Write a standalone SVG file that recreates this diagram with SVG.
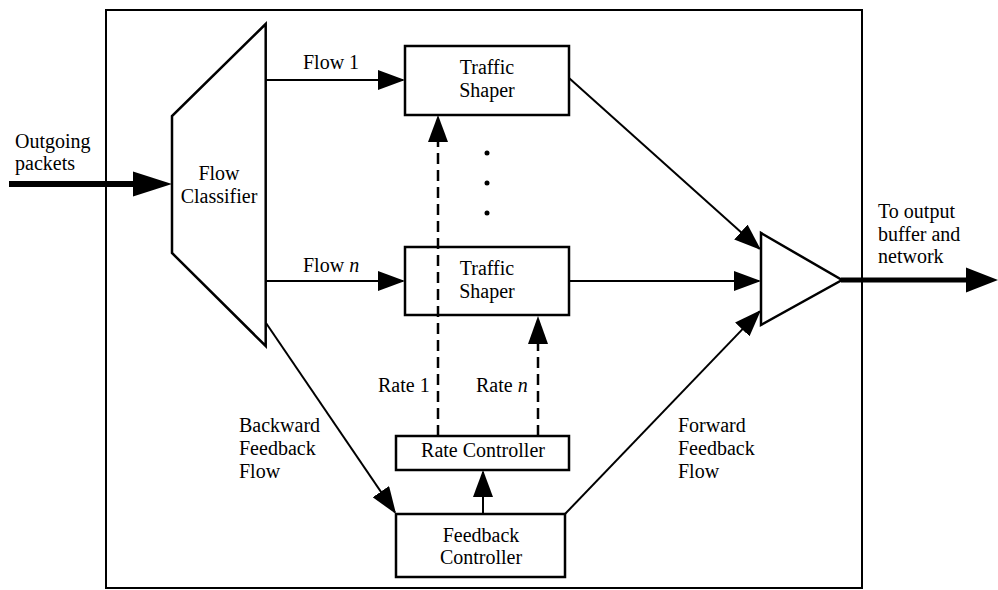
<svg xmlns="http://www.w3.org/2000/svg" width="998" height="590" viewBox="0 0 998 590">
<defs>
<style>
text{font-family:"Liberation Serif","Times New Roman",serif;font-size:20px;fill:#000}
.c{text-anchor:middle}
.box{fill:#fff;stroke:#000;stroke-width:2.5}
.ln{fill:none;stroke:#000;stroke-width:2}
.dash{fill:none;stroke:#000;stroke-width:2.5;stroke-dasharray:11 6}
.thick{fill:none;stroke:#000;stroke-width:6}
.head{fill:#000;stroke:none}
</style>
<marker id="ah" markerUnits="userSpaceOnUse" markerWidth="28" markerHeight="20" viewBox="0 0 28 20" refX="25" refY="10" orient="auto">
<path d="M0,0 L27,10 L0,20 z" fill="#000"/>
</marker>
</defs>
<rect width="998" height="590" fill="#fff"/>
<rect id="frame" x="106" y="10" width="756" height="578" fill="none" stroke="#000" stroke-width="2"/>

<g id="connectors">
<line class="thick" x1="9" y1="184" x2="140" y2="184"/>
<polygon class="head" points="133,171.5 172,184 133,196.5"/>
<line class="ln" x1="266" y1="80" x2="403" y2="80" marker-end="url(#ah)"/>
<line class="ln" x1="266" y1="281" x2="403" y2="281" marker-end="url(#ah)"/>
<line class="ln" x1="569" y1="78" x2="759.5" y2="248.7" marker-end="url(#ah)"/>
<line class="ln" x1="569" y1="281" x2="759" y2="281" marker-end="url(#ah)"/>
<line class="ln" x1="565" y1="514" x2="759.6" y2="311.4" marker-end="url(#ah)"/>
<line class="ln" x1="266" y1="323" x2="394.9" y2="512.3" marker-end="url(#ah)"/>
<line class="ln" x1="483" y1="514" x2="483" y2="472" marker-end="url(#ah)"/>
<line class="thick" x1="841" y1="280" x2="970" y2="280" style="stroke-width:5"/>
<polygon class="head" points="966,267.5 998,280 966,292.5"/>
</g>

<g id="classifier">
<polygon class="box" points="265.7,24 172,116 172,253 265.7,346"/>
<text class="c" x="219" y="180">Flow</text>
<text class="c" x="219" y="203">Classifier</text>
</g>

<g id="shaper1">
<rect class="box" x="405" y="46" width="164" height="69"/>
<text class="c" x="487" y="74">Traffic</text>
<text class="c" x="487" y="97">Shaper</text>
</g>

<g id="shapern">
<rect class="box" x="405" y="247" width="164" height="68"/>
<text class="c" x="487" y="275">Traffic</text>
<text class="c" x="487" y="298">Shaper</text>
</g>

<g id="rate-lines">
<line class="dash" x1="438" y1="436" x2="438" y2="140"/>
<polygon class="head" points="428,142 438,115 448,142"/>
<line class="dash" x1="538" y1="436" x2="538" y2="342"/>
<polygon class="head" points="528,344 538,316 548,344"/>
</g>

<g id="dots">
<circle cx="487" cy="153" r="2.5"/>
<circle cx="487" cy="183" r="2.5"/>
<circle cx="487" cy="213" r="2.5"/>
</g>

<g id="rate-controller">
<rect class="box" x="396" y="436" width="173" height="34"/>
<text class="c" x="483" y="457">Rate Controller</text>
</g>

<g id="feedback-controller">
<rect class="box" x="396" y="514" width="169" height="63"/>
<text class="c" x="481" y="542">Feedback</text>
<text class="c" x="481" y="564">Controller</text>
</g>

<g id="combiner">
<polygon class="box" points="761,233 761,325 842,280"/>
</g>

<g id="labels">
<text x="15" y="148">Outgoing</text>
<text x="15" y="170">packets</text>
<text x="303" y="69">Flow 1</text>
<text x="303" y="272">Flow <tspan font-style="italic">n</tspan></text>
<text x="378" y="392">Rate 1</text>
<text x="476" y="392">Rate <tspan font-style="italic">n</tspan></text>
<text x="239" y="432">Backward</text>
<text x="239" y="455">Feedback</text>
<text x="239" y="478">Flow</text>
<text x="678" y="432">Forward</text>
<text x="678" y="455">Feedback</text>
<text x="678" y="478">Flow</text>
<text x="878" y="218">To output</text>
<text x="878" y="241">buffer and</text>
<text x="878" y="263">network</text>
</g>
</svg>
